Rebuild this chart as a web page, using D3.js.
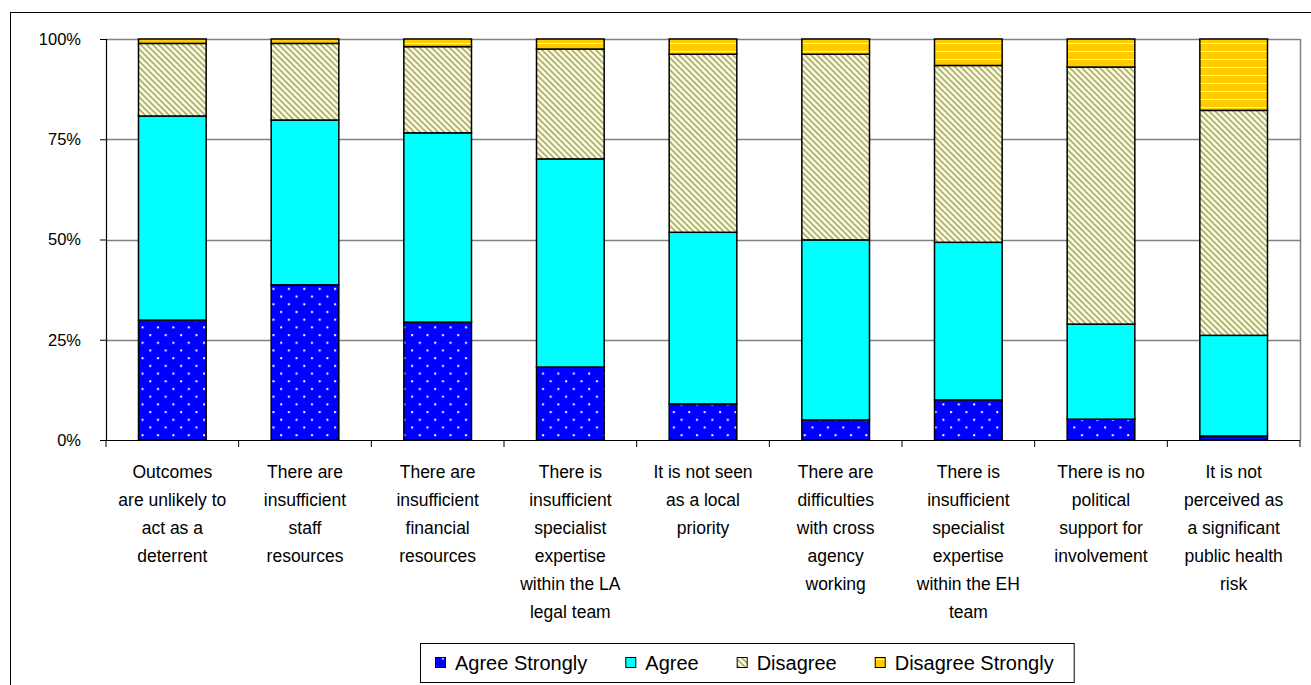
<!DOCTYPE html>
<html><head><meta charset="utf-8">
<script src="https://cdn.jsdelivr.net/npm/d3@7"></script>
<style>body{margin:0;background:#fff}svg{display:block}text{font-family:Arial,"Liberation Sans",sans-serif}</style>
</head><body><svg id="c" width="1311" height="685"></svg>
<script>
const categories = [
  ["Outcomes","are unlikely to","act as a","deterrent"],
  ["There are","insufficient","staff","resources"],
  ["There are","insufficient","financial","resources"],
  ["There is","insufficient","specialist","expertise","within the LA","legal team"],
  ["It is not seen","as a local","priority"],
  ["There are","difficulties","with cross","agency","working"],
  ["There is","insufficient","specialist","expertise","within the EH","team"],
  ["There is no","political","support for","involvement"],
  ["It is not","perceived as","a significant","public health","risk"]
];
const seriesNames = ["Agree Strongly","Agree","Disagree","Disagree Strongly"];
const agreeStrongly    = [29.9, 38.7, 29.4, 18.2, 9.0, 5.0, 10.0, 5.2, 1.0];
const agree            = [50.9, 41.1, 47.2, 51.9, 42.8, 44.9, 39.3, 23.7, 25.1];
const disagree         = [18.1, 19.1, 21.5, 27.4, 44.4, 46.3, 44.1, 64.1, 56.1];
const disagreeStrongly = [1.1, 1.1, 1.9, 2.5, 3.8, 3.8, 6.6, 7.0, 17.8];
const yTicks = [0, 25, 50, 75, 100];

(function(){
const svg = d3.select("#c");
const defs = svg.append("defs");
const pAS = defs.append("pattern").attr("id","pAS").attr("patternUnits","userSpaceOnUse").attr("width",15.4).attr("height",15.4);
pAS.append("rect").attr("width",15.4).attr("height",15.4).attr("fill","#0000FF");
pAS.append("rect").attr("x",3).attr("y",3).attr("width",2).attr("height",2).attr("fill","#fff");
pAS.append("rect").attr("x",10.7).attr("y",10.7).attr("width",2).attr("height",2).attr("fill","#fff");
const pD = defs.append("pattern").attr("id","pD").attr("patternUnits","userSpaceOnUse").attr("width",6).attr("height",6);
pD.append("rect").attr("width",6).attr("height",6).attr("fill","#FFFFCC");
pD.append("path").attr("d","M-1,-1 L7,7 M-1,5 L1,7 M5,-1 L7,1").attr("stroke","#A8A890").attr("stroke-width",1.6);
const pDS = defs.append("pattern").attr("id","pDS").attr("patternUnits","userSpaceOnUse").attr("width",8).attr("height",8);
pDS.append("rect").attr("width",8).attr("height",8).attr("fill","#FFCC00");
pDS.append("rect").attr("y",3).attr("width",8).attr("height",1).attr("fill","#FFF2B0");
const fills = ["url(#pAS)","#00FFFF","url(#pD)","url(#pDS)"];

svg.append("rect").attr("x",10.5).attr("y",12.5).attr("width",1320).attr("height",700).attr("fill","none").attr("stroke","#000");

const pL = 106, pR = 1300, pT = 39, pB = 440;
const x = d3.scaleBand().domain(d3.range(categories.length)).range([pL,pR]).paddingInner(0.49).paddingOuter(0.245);
const y = d3.scaleLinear().domain([0,100]).range([pB,pT]);
const step = x.step();

svg.append("g").selectAll("line").data(yTicks.filter(d=>d>0)).join("line")
  .attr("x1",pL).attr("x2",pR).attr("y1",d=>Math.round(y(d))+0.5).attr("y2",d=>Math.round(y(d))+0.5)
  .attr("stroke","#808080").attr("stroke-width",1.5);
svg.append("line").attr("x1",pR+0.5).attr("x2",pR+0.5).attr("y1",pT).attr("y2",pB).attr("stroke","#808080").attr("stroke-width",1.5);

const rows = categories.map((c,i)=>({i, v:[agreeStrongly[i],agree[i],disagree[i],disagreeStrongly[i]]}));
const stacked = d3.stack().keys([0,1,2,3]).value((d,k)=>d.v[k])(rows);
stacked.forEach((layer,k)=>{
  svg.append("g").selectAll("rect").data(layer).join("rect")
    .attr("x",d=>x(d.data.i)).attr("width",x.bandwidth())
    .attr("y",d=>y(d[1])).attr("height",d=>y(d[0])-y(d[1]))
    .attr("fill",fills[k]).attr("stroke","#000").attr("stroke-width",1.5);
});

const yAxis = d3.axisLeft(y).tickValues(yTicks).tickFormat(d=>d+"%").tickSize(6).tickPadding(19);
const ga = svg.append("g").attr("transform",`translate(${pL},0)`).call(yAxis);
ga.select(".domain").attr("stroke","#000").attr("stroke-width",1.2);
ga.selectAll(".tick line").attr("stroke","#000");
ga.selectAll(".tick text").attr("font-size",16.5).attr("fill","#000").attr("font-family","Arial, Liberation Sans, sans-serif");

svg.append("line").attr("x1",pL).attr("x2",pR).attr("y1",pB+0.5).attr("y2",pB+0.5).attr("stroke","#000").attr("stroke-width",1.2);
svg.append("g").selectAll("line").data(d3.range(categories.length+1)).join("line")
  .attr("x1",d=>pL+d*step).attr("x2",d=>pL+d*step).attr("y1",pB).attr("y2",pB+7).attr("stroke","#000");

const lab = svg.append("g").selectAll("text").data(categories).join("text")
  .attr("text-anchor","middle").attr("font-size",17.5).attr("fill","#000");
lab.each(function(lines,i){
  const t = d3.select(this);
  lines.forEach((ln,j)=>t.append("tspan").attr("x",x(i)+x.bandwidth()/2).attr("y",478+j*28).text(ln));
});

const lg = svg.append("g");
const box = lg.append("rect").attr("y",643.5).attr("height",39).attr("fill","#fff").attr("stroke","#000");
let cx = 435;
seriesNames.forEach((n,k)=>{
  lg.append("rect").attr("x",cx+0.5).attr("y",657.5).attr("width",10).attr("height",10).attr("fill",fills[k]).attr("stroke","#000");
  const t = lg.append("text").attr("x",cx+20).attr("y",670).attr("font-size",20).attr("fill","#000").text(n);
  cx += 20 + t.node().getComputedTextLength() + 38;
});
box.attr("x",420.5).attr("width",cx-38+20-420);
})();
</script></body></html>
